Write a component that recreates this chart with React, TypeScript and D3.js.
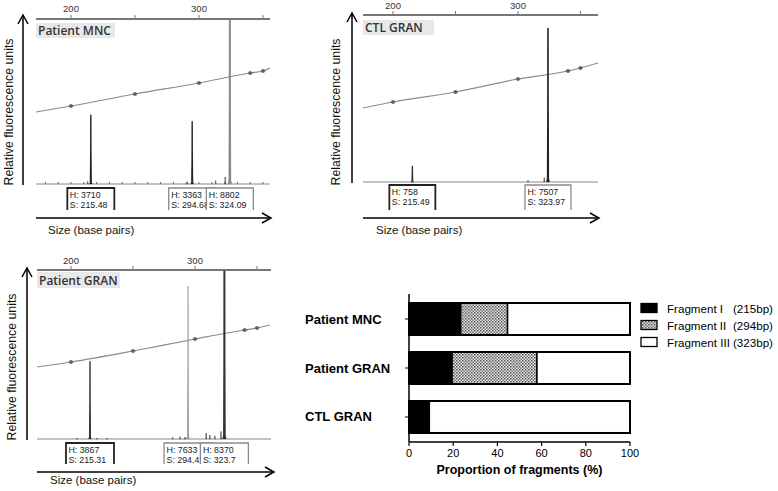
import React from "react";
import * as d3 from "d3";

// ---------- DATA ----------
const topTickSizes = [200, 250, 300, 350];
const labeledTickSizes = [200, 300];
const ladderSizes = [200, 250, 300, 340, 350];

// Patient MNC
const peakSizesMNC = [215.48, 294.68, 324.09];
const peakHeightsMNC = [3710, 3363, 8802];
const ladderMNC = [4207, 4855, 5448, 5987, 6095];
const ladderEdgesMNC: [number, number][] = [[172.7, 3884], [355.5, 6257]];
const noiseSizesMNC = [213, 291, 313, 320.5];
const noiseHeightsMNC = [150, 120, 180, 380];

// CTL GRAN
const peakSizesCTL = [215.49, 323.97];
const peakHeightsCTL = [758, 7507];
const ladderCTL = [3914, 4403, 5039, 5430, 5577];
const ladderEdgesCTL: [number, number][] = [[176, 3620], [364, 5821]];
const noiseSizesCTL = [308, 321];
const noiseHeightsCTL = [80, 220];

// Patient GRAN
const peakSizesGRAN = [215.31, 294.4, 323.7];
const peakHeightsGRAN = [3867, 7633, 8370];
const ladderGRAN = [3850, 4400, 5000, 5450, 5550];
const ladderEdgesGRAN: [number, number][] = [[172.6, 3600], [360.5, 5700]];
const noiseSizesGRAN = [205, 221, 229, 282, 288, 292, 309, 312, 316, 321];
const noiseHeightsGRAN = [50, 50, 50, 80, 120, 100, 300, 200, 160, 380];

// Bar chart
const samples = ["Patient MNC", "Patient GRAN", "CTL GRAN"];
const fragmentI = [23.4, 19.5, 9.2];
const fragmentII = [21.2, 38.4, 0];
const fragmentIII = [55.4, 42.1, 90.8];
const fragmentNames = ["Fragment I", "Fragment II", "Fragment III"];
const fragmentSizes = ["(215bp)", "(294bp)", "(323bp)"];
const barTicks = [0, 20, 40, 60, 80, 100];

// ---------- LAYOUT / STYLE ----------
const FONT = "'Liberation Sans', Arial, sans-serif";

type PanelCfg = {
  id: string;
  title: string;
  sizes: number[];
  heights: number[];
  ladder: number[];
  edges: [number, number][];
  noiseS: number[];
  noiseH: number[];
  xRef: [number, number];
  xL: number; xR: number;
  topY: number; baseY: number; yMax: number;
  vArrowX: number; vArrowTop: number;
  hArrowY: number; hArrowR: number;
  yTitleX: number; yTitleY: number;
  xTitleX: number; xTitleY: number;
  tickLabelY: number;
  label: [number, number, number, number];
  boxTop: number; boxBottom: number; boxW: number;
  peakColors: string[]; peakWidths: number[];
  minorTicks: boolean;
};

const panels: PanelCfg[] = [
  {
    id: "mnc", title: "Patient MNC",
    sizes: peakSizesMNC, heights: peakHeightsMNC, ladder: ladderMNC, edges: ladderEdgesMNC,
    noiseS: noiseSizesMNC, noiseH: noiseHeightsMNC,
    xRef: [71, 199], xL: 36, xR: 270, topY: 19, baseY: 184, yMax: 8900,
    vArrowX: 23, vArrowTop: 15, hArrowY: 218, hArrowR: 271,
    yTitleX: 9, yTitleY: 112, xTitleX: 48, xTitleY: 234, tickLabelY: 12,
    label: [36, 23, 79, 15], boxTop: 188, boxBottom: 210, boxW: 47,
    peakColors: ["#222", "#222", "#8a8a8a"], peakWidths: [1.4, 1.4, 2.0],
    minorTicks: true,
  },
  {
    id: "ctl", title: "CTL GRAN",
    sizes: peakSizesCTL, heights: peakHeightsCTL, ladder: ladderCTL, edges: ladderEdgesCTL,
    noiseS: noiseSizesCTL, noiseH: noiseHeightsCTL,
    xRef: [393, 518], xL: 363, xR: 598, topY: 15, baseY: 182, yMax: 8170,
    vArrowX: 352, vArrowTop: 13, hArrowY: 218, hArrowR: 599,
    yTitleX: 336, yTitleY: 112, xTitleX: 376, xTitleY: 234, tickLabelY: 9,
    label: [363, 20, 71, 15], boxTop: 185, boxBottom: 210, boxW: 46,
    peakColors: ["#333", "#222"], peakWidths: [1.4, 1.6],
    minorTicks: false,
  },
  {
    id: "gran", title: "Patient GRAN",
    sizes: peakSizesGRAN, heights: peakHeightsGRAN, ladder: ladderGRAN, edges: ladderEdgesGRAN,
    noiseS: noiseSizesGRAN, noiseH: noiseHeightsGRAN,
    xRef: [71, 195], xL: 37, xR: 271, topY: 270, baseY: 439, yMax: 8450,
    vArrowX: 27, vArrowTop: 268, hArrowY: 472, hArrowR: 274,
    yTitleX: 12, yTitleY: 367, xTitleX: 50, xTitleY: 484, tickLabelY: 264,
    label: [37, 272, 83, 16], boxTop: 443, boxBottom: 464, boxW: 48,
    peakColors: ["#333", "#9a9a9a", "#333"], peakWidths: [1.4, 1.1, 2.0],
    minorTicks: false,
  },
];

function peakPath(s: number, h: number, x: d3.ScaleLinear<number, number>, y: d3.ScaleLinear<number, number>, w = 0.9) {
  const pts: [number, number][] = [
    [s - w, 0], [s - w * 0.3, h * 0.02], [s - 0.05, h * 0.5], [s, h],
    [s + 0.05, h * 0.5], [s + w * 0.3, h * 0.02], [s + w, 0],
  ];
  return d3.line()(pts.map(([a, b]) => [x(a), y(b)] as [number, number])) || "";
}

function Electropherogram({ p }: { p: PanelCfg }) {
  const x = d3.scaleLinear().domain([200, 300]).range(p.xRef);
  const y = d3.scaleLinear().domain([0, p.yMax]).range([p.baseY, p.topY]);
  const ladderPts: [number, number][] = [
    p.edges[0],
    ...ladderSizes.map((s, i) => [s, p.ladder[i]] as [number, number]),
    p.edges[1],
  ];
  const ladderLine = d3.line<[number, number]>().x(d => x(d[0])).y(d => y(d[1])).curve(d3.curveMonotoneX);
  const minor = p.minorTicks ? d3.range(180, 351, 10) : [];
  const clipId = `clip-${p.id}`;
  return (
    <g>
      <defs>
        <clipPath id={clipId}>
          <rect x={p.xL} y={p.topY} width={p.xR - p.xL} height={p.baseY - p.topY + 1} />
        </clipPath>
      </defs>
      <line x1={p.xL} x2={p.xR} y1={p.topY} y2={p.topY} stroke="#777" strokeWidth={1.8} />
      {topTickSizes.map(s => (
        <line key={s} x1={x(s)} x2={x(s)} y1={p.topY} y2={p.topY - 4} stroke="#777" strokeWidth={1} />
      ))}
      {labeledTickSizes.map(s => (
        <text key={s} x={x(s)} y={p.tickLabelY} textAnchor="middle" fontFamily={FONT} fontSize={9.5} fill="#333">{s}</text>
      ))}
      <line x1={p.xL} x2={p.xR} y1={p.baseY} y2={p.baseY} stroke="#888" strokeWidth={1} />
      {minor.map(s => (
        <line key={s} x1={x(s)} x2={x(s)} y1={p.baseY} y2={p.baseY - 2} stroke="#666" strokeWidth={1} />
      ))}
      <rect x={p.label[0]} y={p.label[1]} width={p.label[2]} height={p.label[3]} fill="#e8e8e8" />
      <text x={p.label[0] + 2} y={p.label[1] + p.label[3] - 3} fontFamily="'Open Sans', sans-serif" fontWeight={600} fontSize={12} fill="#333">{p.title}</text>
      <path d={ladderLine(ladderPts) || ""} fill="none" stroke="#8c8c8c" strokeWidth={1.2} />
      {ladderSizes.map((s, i) => (
        <g key={s}>
          <circle cx={x(s)} cy={y(p.ladder[i])} r={1.9} fill="#6a6a6a" />
          <line x1={x(s) - 2.5} x2={x(s) + 2.5} y1={y(p.ladder[i])} y2={y(p.ladder[i])} stroke="#555" strokeWidth={0.8} />
        </g>
      ))}
      <g clipPath={`url(#${clipId})`}>
        {p.noiseS.map((s, i) => (
          <path key={"n" + i} d={peakPath(s, p.noiseH[i], x, y, 0.7)} fill="#555" stroke="#555" strokeWidth={0.8} />
        ))}
        {p.sizes.map((s, i) => (
          <path key={"p" + i} d={peakPath(s, p.heights[i], x, y)} fill={p.peakColors[i]} stroke={p.peakColors[i]} strokeWidth={p.peakWidths[i]} strokeLinejoin="round" />
        ))}
      </g>
      {p.sizes.map((s, i) => {
        const cx = x(s);
        const l = cx - p.boxW / 2;
        const r = cx + p.boxW / 2;
        const dark = i === 0;
        return (
          <g key={"b" + i}>
            <rect x={l} y={p.boxTop} width={p.boxW} height={p.boxBottom - p.boxTop} fill="#fff" />
            <text x={l + 2.5} y={p.boxTop + 9.5} fontFamily={FONT} fontSize={8.8} fill="#222">{`H: ${p.heights[i]}`}</text>
            <text x={l + 2.5} y={p.boxTop + 19.5} fontFamily={FONT} fontSize={8.8} fill="#222">{`S: ${s}`}</text>
            <path d={`M${l},${p.boxBottom}V${p.boxTop}H${r}V${p.boxBottom}`} fill="none"
              stroke={dark ? "#222" : "#8a8a8a"} strokeWidth={dark ? 1.8 : 1.3} />
          </g>
        );
      })}
      <line x1={p.vArrowX} x2={p.vArrowX} y1={p.baseY + 1} y2={p.vArrowTop} stroke="#000" strokeWidth={1.5} />
      <path d={`M${p.vArrowX - 5},${p.vArrowTop + 9}L${p.vArrowX},${p.vArrowTop}L${p.vArrowX + 5},${p.vArrowTop + 9}`} fill="none" stroke="#000" strokeWidth={1.5} />
      <line x1={p.xL} x2={p.hArrowR} y1={p.hArrowY} y2={p.hArrowY} stroke="#000" strokeWidth={1.5} />
      <path d={`M${p.hArrowR - 9},${p.hArrowY - 5}L${p.hArrowR},${p.hArrowY}L${p.hArrowR - 9},${p.hArrowY + 5}`} fill="none" stroke="#000" strokeWidth={1.5} />
      <text transform={`translate(${p.yTitleX + 4},${p.yTitleY}) rotate(-90)`} textAnchor="middle" fontFamily={FONT} fontSize={12.3} fill="#111">Relative fluorescence units</text>
      <text x={p.xTitleX} y={p.xTitleY} fontFamily={FONT} fontSize={11.5} fill="#111">Size (base pairs)</text>
    </g>
  );
}

function BarChart() {
  const x = d3.scaleLinear().domain([0, 100]).range([409, 630]);
  const y = d3.scaleBand<string>().domain(samples).range([294, 442]).paddingInner(0.347).paddingOuter(0.184);
  const series = [fragmentI, fragmentII, fragmentIII];
  const fills = ["#000", "url(#stipple)", "#fff"];
  const bw = y.bandwidth();
  return (
    <g>
      <defs>
        <pattern id="stipple" width={3} height={3} patternUnits="userSpaceOnUse">
          <rect width={3} height={3} fill="#e4e4e4" />
          <rect x={0} y={0} width={1.5} height={1.5} fill="#555" />
          <rect x={1.5} y={1.5} width={1.5} height={1.5} fill="#777" />
        </pattern>
      </defs>
      {samples.map((s, si) => {
        let acc = 0;
        const y0 = y(s) as number;
        return (
          <g key={s}>
            {series.map((vals, k) => {
              const start = acc;
              acc += vals[si];
              if (vals[si] <= 0) return null;
              return (
                <rect key={k} x={x(start)} y={y0} width={x(acc) - x(start)} height={bw}
                  fill={fills[k]} stroke="#000" strokeWidth={1.5} />
              );
            })}
            <rect x={x(0)} y={y0} width={x(100) - x(0)} height={bw} fill="none" stroke="#000" strokeWidth={2} />
            <line x1={x(0) - 4} x2={x(0)} y1={y0 + bw / 2} y2={y0 + bw / 2} stroke="#000" strokeWidth={1} />
            <text x={305} y={y0 + bw / 2 + 4.5} fontFamily={FONT} fontWeight={700} fontSize={13} fill="#000">{s}</text>
          </g>
        );
      })}
      <line x1={x(0)} x2={x(0)} y1={294} y2={442} stroke="#000" strokeWidth={1.5} />
      <line x1={x(0)} x2={x(100)} y1={442} y2={442} stroke="#000" strokeWidth={1.5} />
      {barTicks.map(t => (
        <g key={t}>
          <line x1={x(t)} x2={x(t)} y1={442} y2={446} stroke="#000" strokeWidth={1.2} />
          <text x={x(t)} y={457} textAnchor="middle" fontFamily={FONT} fontSize={11} fill="#000">{t}</text>
        </g>
      ))}
      <text x={x(50)} y={474} textAnchor="middle" fontFamily={FONT} fontWeight={700} fontSize={12.5} fill="#000">Proportion of fragments (%)</text>
      {fragmentNames.map((n, i) => {
        const cy = 308 + i * 17;
        return (
          <g key={n}>
            <rect x={641} y={cy - 4.5} width={16} height={9} fill={fills[i]} stroke="#000" strokeWidth={1.3} />
            <text x={667} y={cy + 4.5} fontFamily={FONT} fontSize={11.6} fill="#000" textLength={fragmentNames[i] === "Fragment III" ? 63 : undefined}>{n}</text>
            <text x={733} y={cy + 4.5} fontFamily={FONT} fontSize={11.6} fill="#000">{fragmentSizes[i]}</text>
          </g>
        );
      })}
    </g>
  );
}

export default function App() {
  return (
    <svg width={778} height={491} viewBox="0 0 778 491" style={{ position: "absolute", left: 0, top: 0, background: "#fff" }}>
      <rect width={778} height={491} fill="#fff" />
      {panels.map(p => <Electropherogram key={p.id} p={p} />)}
      <BarChart />
    </svg>
  );
}
